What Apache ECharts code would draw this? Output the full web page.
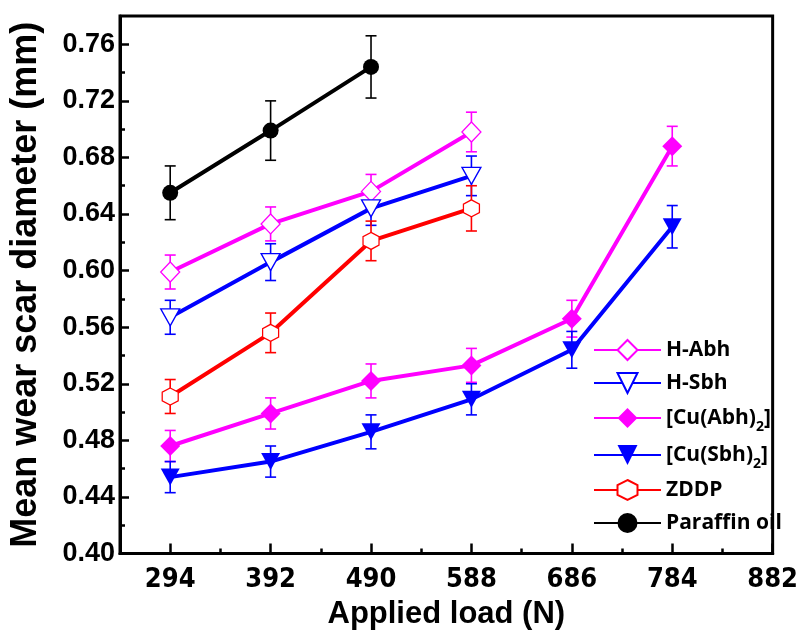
<!DOCTYPE html>
<html>
<head>
<meta charset="utf-8">
<script src="https://cdn.jsdelivr.net/npm/echarts@6/dist/echarts.min.js"></script>
<style>
html,body{margin:0;padding:0;background:#fff;}
#chart{width:801px;height:637px;}
</style>
</head>
<body>
<div id="chart"></div>
<script>
// ---- data ----
const loads = [294, 392, 490, 588, 686, 784];
const xTickLabels = [294, 392, 490, 588, 686, 784, 882];
const xMinorTicks = [343, 441, 539, 637, 735, 833];
const yTickLabels = [0.40, 0.44, 0.48, 0.52, 0.56, 0.60, 0.64, 0.68, 0.72, 0.76];
const yMinorTicks = [0.42, 0.46, 0.50, 0.54, 0.58, 0.62, 0.66, 0.70, 0.74];

const hAbh = [0.599, 0.633, 0.656, 0.698];
const hAbhErr = [0.012, 0.012, 0.012, 0.014];
const hSbh = [0.567, 0.606, 0.644, 0.667];
const hSbhErr = [0.012, 0.013, 0.012, 0.014];
const cuAbh = [0.476, 0.499, 0.522, 0.533, 0.566, 0.688];
const cuAbhErr = [0.011, 0.011, 0.012, 0.012, 0.013, 0.014];
const cuSbh = [0.454, 0.465, 0.486, 0.509, 0.544, 0.631];
const cuSbhErr = [0.011, 0.011, 0.012, 0.011, 0.013, 0.015];
const zddp = [0.511, 0.556, 0.621, 0.644];
const zddpErr = [0.012, 0.014, 0.014, 0.016];
const paraffin = [0.655, 0.699, 0.744];
const paraffinErr = [0.019, 0.021, 0.022];

const names = ['H-Abh', 'H-Sbh', '[Cu(Abh)2]', '[Cu(Sbh)2]', 'ZDDP', 'Paraffin oil'];

// ---- styling ----
const hexPath = 'path://M0,-1 L0.866,-0.5 L0.866,0.5 L0,1 L-0.866,0.5 L-0.866,-0.5 Z';
const seriesDefs = [
  {name: names[0], vals: hAbh, err: hAbhErr, color: '#FF00FF', symbol: 'diamond', size: [19, 20], rot: 0, open: true},
  {name: names[1], vals: hSbh, err: hSbhErr, color: '#0000FF', symbol: 'triangle', size: [19, 17], rot: 180, open: true},
  {name: names[2], vals: cuAbh, err: cuAbhErr, color: '#FF00FF', symbol: 'diamond', size: [20, 20], rot: 0, open: false},
  {name: names[3], vals: cuSbh, err: cuSbhErr, color: '#0000FF', symbol: 'triangle', size: [19, 17], rot: 180, open: false},
  {name: names[4], vals: zddp, err: zddpErr, color: '#FF0000', symbol: hexPath, size: [16, 17], rot: 0, open: true},
  {name: names[5], vals: paraffin, err: paraffinErr, color: '#000000', symbol: 'circle', size: 16, rot: 0, open: false}
];

const series = [];
seriesDefs.forEach(function (d) {
  series.push({
    type: 'custom',
    name: d.name + ' err',
    xAxisIndex: 0, yAxisIndex: 0,
    z: 1,
    silent: true,
    data: d.vals.map(function (v, i) { return [loads[i], v - d.err[i], v + d.err[i]]; }),
    encode: {x: 0, y: [1, 2]},
    renderItem: function (params, api) {
      const x = api.value(0);
      const lo = api.coord([x, api.value(1)]);
      const hi = api.coord([x, api.value(2)]);
      const w = 5.5;
      const st = {stroke: d.color, lineWidth: 1.6, fill: null};
      return {
        type: 'group',
        children: [
          {type: 'line', shape: {x1: lo[0], y1: lo[1], x2: hi[0], y2: hi[1]}, style: st},
          {type: 'line', shape: {x1: lo[0] - w, y1: lo[1], x2: lo[0] + w, y2: lo[1]}, style: st},
          {type: 'line', shape: {x1: hi[0] - w, y1: hi[1], x2: hi[0] + w, y2: hi[1]}, style: st}
        ]
      };
    }
  });
});
seriesDefs.forEach(function (d) {
  series.push({
    type: 'line',
    name: d.name,
    xAxisIndex: 0, yAxisIndex: 0,
    z: 3,
    data: d.vals.map(function (v, i) { return [loads[i], v]; }),
    symbol: d.symbol,
    symbolSize: d.size,
    symbolRotate: d.rot,
    showAllSymbol: true,
    lineStyle: {color: d.color, width: 4},
    itemStyle: d.open ? {color: '#ffffff', borderColor: d.color, borderWidth: 1.3}
                      : {color: d.color, borderColor: d.color, borderWidth: 0},
    emphasis: {disabled: true},
    animation: false
  });
});

const chart = echarts.init(document.getElementById('chart'), null, {renderer: 'canvas'});
chart.setOption({
  animation: false,
  backgroundColor: '#ffffff',
  grid: {left: 118, right: 22, top: 16, bottom: 83.5, show: true, borderColor: '#000', borderWidth: 3, backgroundColor: 'transparent'},
  legend: {
    data: names,
    orient: 'vertical',
    left: 593,
    top: 336,
    itemWidth: 67,
    itemHeight: 25,
    itemGap: 5,
    padding: [0, 0, 0, 0],
    textStyle: {
      fontFamily: '"Open Sans", "Noto Sans", sans-serif',
      fontWeight: 'bold',
      fontSize: 21,
      color: '#000',
      lineHeight: 28,
      rich: {
        s: {fontFamily: '"Open Sans", "Noto Sans", sans-serif', fontWeight: 'bold', fontSize: 14, lineHeight: 14, padding: [18, 0, 0, 0], color: '#000'}
      }
    },
    formatter: function (name) {
      return name.replace(')2]', '){s|2}]');
    }
  },
  xAxis: [{
    type: 'value',
    min: 245, max: 882,
    position: 'bottom',
    splitLine: {show: false},
    axisLine: {show: true, lineStyle: {color: '#000', width: 3}},
    axisTick: {show: true, inside: true, length: 10, lineStyle: {color: '#000', width: 2.5}, customValues: xTickLabels},
    axisLabel: {
      customValues: xTickLabels,
      margin: 13,
      color: '#000',
      fontFamily: '"Liberation Sans Narrow", "DejaVu Sans Condensed", "Liberation Sans", sans-serif',
      fontWeight: 'bold',
      fontSize: 27,
      formatter: function (v) { return String(v); }
    },
    name: 'Applied load (N)',
    nameLocation: 'middle',
    nameGap: 45,
    nameTextStyle: {color: '#000', fontFamily: '"Liberation Sans", Arial, sans-serif', fontWeight: 'bold', fontSize: 31}
  }, {
    type: 'value',
    min: 245, max: 882,
    position: 'bottom',
    splitLine: {show: false},
    axisLine: {show: false},
    axisLabel: {show: false},
    axisTick: {show: true, inside: true, length: 5, lineStyle: {color: '#000', width: 2.5}, customValues: xMinorTicks}
  }],
  yAxis: [{
    type: 'value',
    min: 0.40, max: 0.78,
    position: 'left',
    splitLine: {show: false},
    axisLine: {show: true, lineStyle: {color: '#000', width: 3}},
    axisTick: {show: true, inside: true, length: 9, lineStyle: {color: '#000', width: 2.5}, customValues: yTickLabels},
    axisLabel: {
      customValues: yTickLabels,
      margin: 5,
      color: '#000',
      fontFamily: '"Liberation Sans", Arial, sans-serif',
      fontWeight: 'bold',
      fontSize: 27,
      formatter: function (v) { return v.toFixed(2); }
    },
    name: 'Mean wear scar diameter (mm)',
    nameLocation: 'middle',
    nameGap: 76,
    nameTextStyle: {color: '#000', fontFamily: '"Liberation Sans", Arial, sans-serif', fontWeight: 'bold', fontSize: 36}
  }, {
    type: 'value',
    min: 0.40, max: 0.78,
    position: 'left',
    splitLine: {show: false},
    axisLine: {show: false},
    axisLabel: {show: false},
    axisTick: {show: true, inside: true, length: 5, lineStyle: {color: '#000', width: 2.5}, customValues: yMinorTicks}
  }],
  series: series
});
</script>
</body>
</html>
